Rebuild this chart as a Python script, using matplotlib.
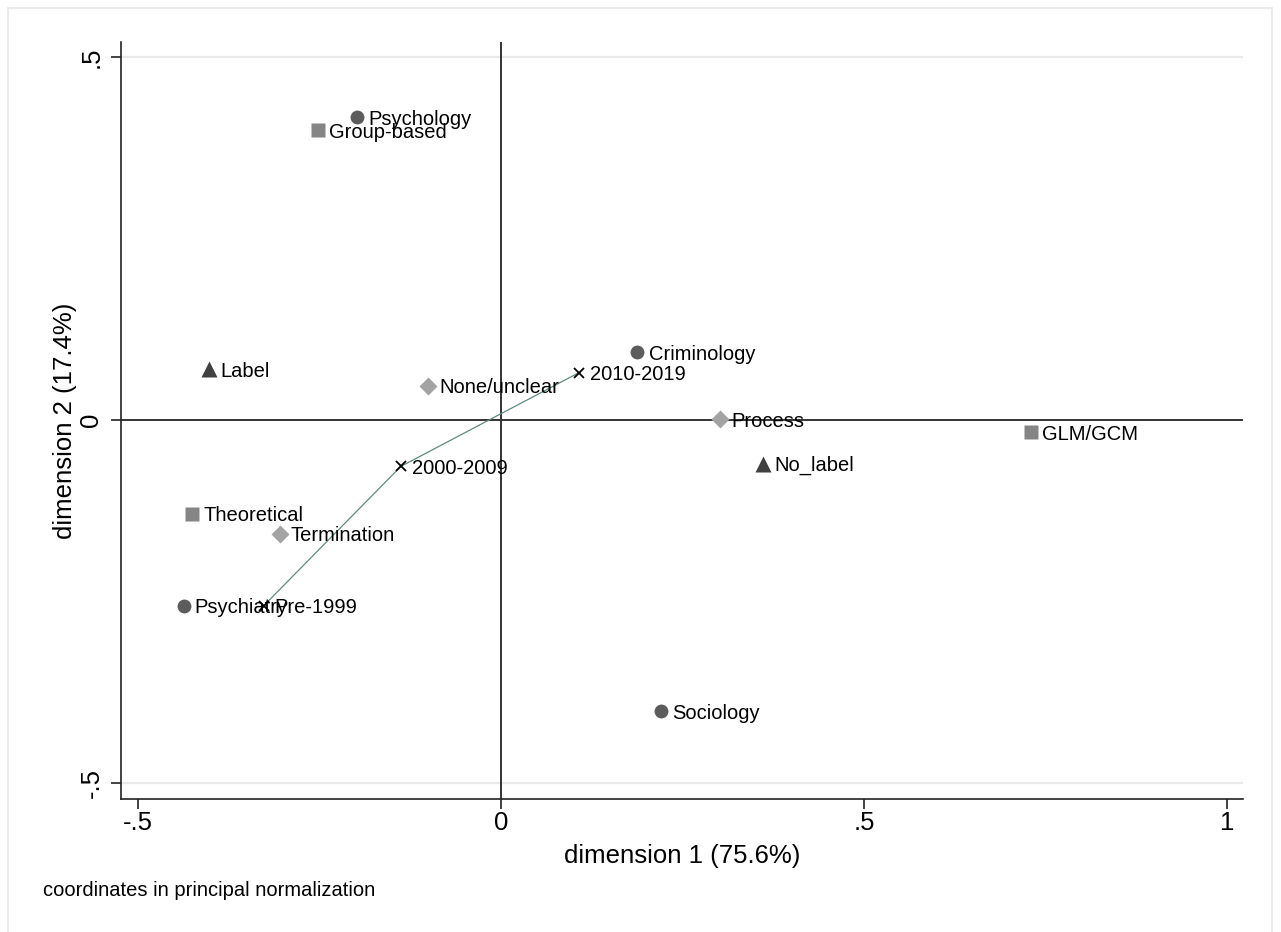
import matplotlib
matplotlib.use("Agg")
import matplotlib.pyplot as plt
from matplotlib.patches import Rectangle

plt.rcParams['font.family'] = ['Liberation Sans', 'DejaVu Sans']

# discipline (circles)
disc_names = ["Psychology", "Criminology", "Psychiatry", "Sociology"]
disc_x = [-0.198, 0.188, -0.437, 0.220]
disc_y = [0.417, 0.093, -0.256, -0.401]

# method (squares)
meth_names = ["Group-based", "GLM/GCM", "Theoretical"]
meth_x = [-0.252, 0.730, -0.425]
meth_y = [0.399, -0.017, -0.129]

# label (triangles)
lab_names = ["Label", "No_label"]
lab_x = [-0.402, 0.361]
lab_y = [0.070, -0.060]

# desistance definition (diamonds)
def_names = ["None/unclear", "Process", "Termination"]
def_x = [-0.100, 0.302, -0.305]
def_y = [0.047, 0.001, -0.157]

# period (x, joined by a line)
per_names = ["Pre-1999", "2000-2009", "2010-2019"]
per_x = [-0.327, -0.138, 0.107]
per_y = [-0.256, -0.064, 0.065]

xticks = [-0.5, 0, 0.5, 1]
xtick_labels = ["-.5", "0", ".5", "1"]
yticks = [-0.5, 0, 0.5]
ytick_labels = ["-.5", "0", ".5"]

W, H = 1281, 932
fig = plt.figure(figsize=(W / 100, H / 100), dpi=100)
fig.patch.set_facecolor("white")
# light outer frame
fig.patches.append(Rectangle((8 / W, -0.05), (1272 - 8) / W, 1.05 - 8 / H,
                             transform=fig.transFigure, fill=False,
                             edgecolor="#ebebeb", linewidth=1.5))

ax = fig.add_axes([121.5 / W, 1 - 799 / H, (1243 - 121.5) / W, (799 - 41.7) / H])
ax.set_xlim(-0.5227, 1.022)
ax.set_ylim(-0.522, 0.521)

for s in ["top", "right"]:
    ax.spines[s].set_visible(False)
for s in ["left", "bottom"]:
    ax.spines[s].set_linewidth(1.2)
    ax.spines[s].set_color("#222222")

for g in [-0.5, 0.5]:
    ax.axhline(g, color="#e9e9e9", lw=1.6, zorder=0)
ax.axhline(0, color="#333333", lw=1.4, zorder=1)
ax.axvline(0, color="#333333", lw=1.4, zorder=1)

ax.plot(per_x, per_y, color="#5f8a80", lw=0.9, zorder=2)

ax.plot(disc_x, disc_y, "o", ms=10, color="#5c5c5c", mec="none", zorder=3)
ax.plot(meth_x, meth_y, "s", ms=9.5, color="#858585", mec="none", zorder=3)
ax.plot(lab_x, lab_y, "^", ms=11, color="#404040", mec="none", zorder=3)
ax.plot(def_x, def_y, "D", ms=9, color="#a3a3a3", mec="none", zorder=3)
ax.plot(per_x, per_y, "x", ms=7, color="black", mew=1.3, zorder=3)

for names, xs, ys in [(disc_names, disc_x, disc_y), (meth_names, meth_x, meth_y),
                      (lab_names, lab_x, lab_y), (def_names, def_x, def_y),
                      (per_names, per_x, per_y)]:
    for n, x, y in zip(names, xs, ys):
        ax.annotate(n, (x, y), xytext=(8, 0), textcoords="offset points",
                    va="center_baseline", ha="left", fontsize=14.5, zorder=4)

ax.set_xticks(xticks)
ax.set_xticklabels(xtick_labels)
ax.set_yticks(yticks)
ax.set_yticklabels(ytick_labels)
ax.tick_params(axis="both", length=7, width=1.2, color="#222222", labelsize=18.5)
ax.tick_params(axis="x", pad=2)
ax.tick_params(axis="y", pad=6)
for lbl in ax.get_yticklabels():
    lbl.set_rotation(90)
    lbl.set_va("center")

ax.set_xlabel("dimension 1 (75.6%)", fontsize=18.5, labelpad=6)
ax.set_ylabel("dimension 2 (17.4%)", fontsize=18.5, labelpad=2)

fig.text(43 / W, 1 - 890 / H, "coordinates in principal normalization",
         fontsize=14.5, ha="left", va="center")

fig.savefig("out.png", dpi=100, facecolor="white")
